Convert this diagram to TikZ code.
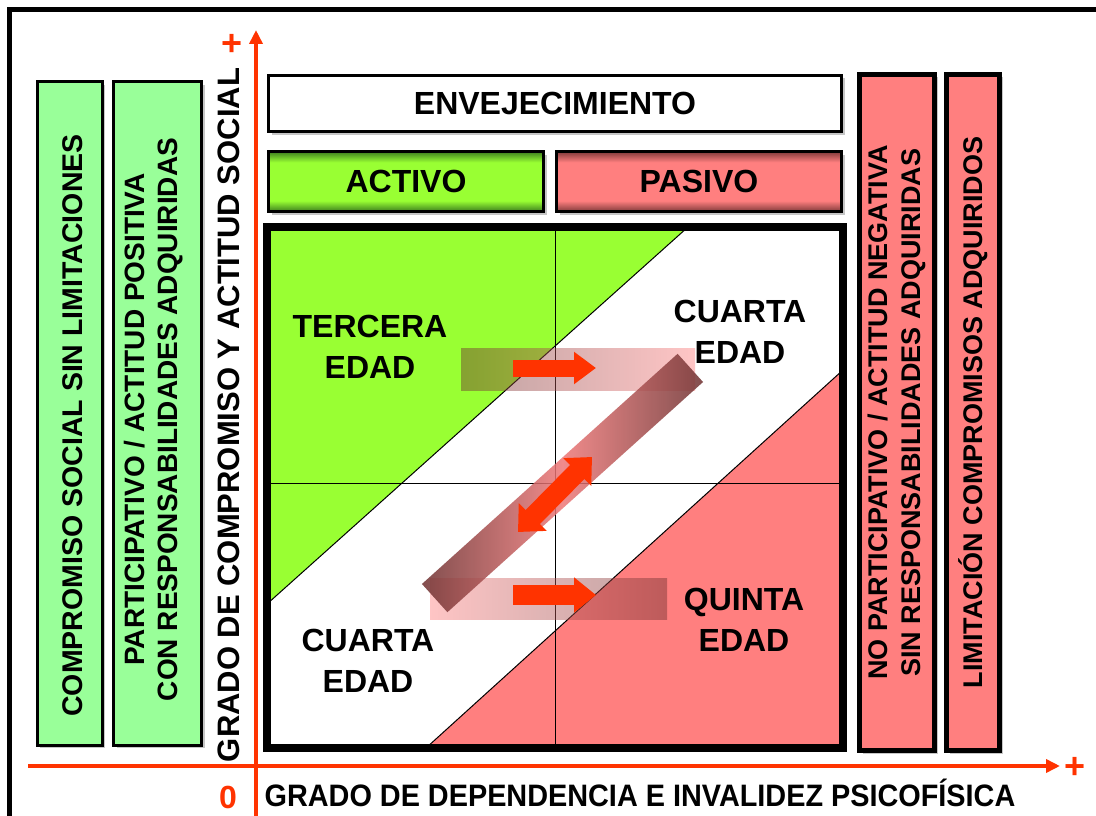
\documentclass[tikz,border=0pt]{standalone}
\usepackage{fontspec}
\setmainfont{Liberation Sans}
\usetikzlibrary{arrows.meta,shadows,positioning}

\definecolor{ejerojo}{HTML}{FF3300}
\definecolor{verdepalido}{HTML}{99FF99}
\definecolor{verdelima}{HTML}{99FF33}
\definecolor{verdeoscuro}{HTML}{3C7D1E}
\definecolor{rosa}{HTML}{FF7F7F}
\definecolor{rosaoscuro}{HTML}{803A3A}
\definecolor{granate}{HTML}{6E3030}
\definecolor{rosabanda}{HTML}{EE7777}

\pgfdeclareverticalshading{activoshade}{100bp}{color(0bp)=(verdeoscuro); color(25bp)=(verdeoscuro); color(34bp)=(verdelima); color(66bp)=(verdelima); color(75bp)=(verdeoscuro); color(100bp)=(verdeoscuro)}
\pgfdeclareverticalshading{pasivoshade}{100bp}{color(0bp)=(rosaoscuro); color(25bp)=(rosaoscuro); color(34bp)=(rosa); color(66bp)=(rosa); color(75bp)=(rosaoscuro); color(100bp)=(rosaoscuro)}

\tikzset{
  sombra/.style={drop shadow={shadow xshift=3pt, shadow yshift=-3pt, opacity=0.45}},
  caja/.style={draw=black, line width=3pt, inner sep=0pt, outer sep=0pt, sombra},
  letrav/.style={rotate=90, align=center, font=\bfseries\fontsize{27}{33}\selectfont},
  edad/.style={align=center, font=\bfseries\fontsize{32}{41}\selectfont},
  titulo/.style={font=\bfseries\fontsize{32}{38}\selectfont},
  ejetxt/.style={text=ejerojo, font=\bfseries\fontsize{36}{40}\selectfont},
  flecha/.style={ejerojo, line width=17pt, -{Triangle[length=22pt, width=31pt]}},
}

\begin{document}
\begin{tikzpicture}[x=1pt, y=-1pt]
    \useasboundingbox (0,0) rectangle (1096,816);
    \draw[line width=4.5pt] (9.5,9.5) rectangle (1130,850);

    % columnas laterales
    \node[caja, fill=verdepalido, minimum width=65pt, minimum height=663pt] (compromiso) at (69.5,413.5) {};
    \node[caja, fill=verdepalido, minimum width=88pt, minimum height=663pt] (participativo) at (157.5,413.5) {};
    \node[caja, fill=rosa, line width=5pt, minimum width=75pt, minimum height=676pt] (noparticipativo) at (897,412.5) {};
    \node[caja, fill=rosa, line width=5pt, minimum width=53pt, minimum height=676pt] (limitacion) at (973,412.5) {};
    \node[letrav, font=\bfseries\fontsize{28.5}{33}\selectfont] (txcompromiso) at ([xshift=3pt, yshift=-12pt]compromiso.center) {COMPROMISO SOCIAL SIN LIMITACIONES};
    \node[letrav, font=\bfseries\fontsize{28}{33}\selectfont] (txparticipativo) at ([xshift=-4pt, yshift=-6pt]participativo.center) {PARTICIPATIVO / ACTITUD POSITIVA\\CON RESPONSABILIDADES ADQUIRIDAS};
    \node[letrav] (txnoparticipativo) at (noparticipativo.center) {NO PARTICIPATIVO / ACTITUD NEGATIVA\\SIN RESPONSABILIDADES ADQUIRIDAS};
    \node[letrav] (txlimitacion) at (limitacion.center) {LIMITACIÓN COMPROMISOS ADQUIRIDOS};

    % cabeceras
    \node[caja, fill=white, minimum width=573pt, minimum height=56pt, titulo] (envejecimiento) at (555,103.5) {ENVEJECIMIENTO};
    \node[caja, shade, shading=activoshade, minimum width=275pt, minimum height=60pt, titulo] (activo) at (406,181.5) {ACTIVO};
    \node[caja, shade, shading=pasivoshade, minimum width=285pt, minimum height=60pt, titulo] (pasivo) at (699,181.5) {PASIVO};

    % cuadro central
    \node[draw, line width=8pt, fill=white, minimum width=576pt, minimum height=521pt, inner sep=0pt, outer sep=0pt, sombra] (cuadro) at (555,487.5) {};
    \fill[verdelima] (cuadro.north west) -- (688,227) -- (267,604) -- cycle;
    \draw[line width=1pt] (688,227) -- (267,604);
    \fill[rosa] (843,370) -- (cuadro.south east) -- (426,748) -- cycle;
    \draw[line width=1pt] (843,370) -- (426,748);
    \draw[line width=1pt] (cuadro.north) -- (cuadro.south);
    \draw[line width=1pt] (267,483) -- (843,483);
    \draw[line width=8pt] (cuadro.north west) rectangle (cuadro.south east);

    \node[edad] (tercera) at (370,347) {TERCERA\\EDAD};
    \node[edad] (cuartasup) at (740,332) {CUARTA\\EDAD};
    \node[edad] (cuartainf) at (368,661) {CUARTA\\EDAD};
    \node[edad] (quinta) at (744,620) {QUINTA\\EDAD};

    % transiciones
    \shade[left color=granate, right color=rosa, opacity=0.45] (461,348) rectangle (695,390);
    \shade[left color=rosa, right color=granate, opacity=0.45] (430,578) rectangle (667,619);
    \coordinate (ts1) at (513,368);
    \coordinate (ts2) at (596,368);
    \coordinate (ti1) at (513,595);
    \coordinate (ti2) at (596,595);
    \draw[flecha] (ts1) -- (ts2);
    \draw[flecha, line width=20pt, -{Triangle[length=22pt, width=34pt]}] (ti1) -- (ti2);
    \node[rotate=42, minimum width=344pt, minimum height=38pt, inner sep=0pt, left color=granate, right color=granate, middle color=rosabanda, fill opacity=0.85] (banda) at (562.5,483) {};
    \coordinate (d1) at (518,532);
    \coordinate (d2) at (592,457);
    \draw[ejerojo, line width=20pt, {Triangle[length=21pt, width=38pt]}-{Triangle[length=21pt, width=38pt]}] (d1) -- (d2);

    % ejes
    \coordinate (ybajo) at (256,830);
    \coordinate (yalto) at (256,30);
    \coordinate (xizq) at (28,766);
    \coordinate (xder) at (1060,766);
    \draw[ejerojo, line width=4pt, -{Triangle[length=14pt, width=13pt]}] (ybajo) -- (yalto);
    \draw[ejerojo, line width=4pt, -{Triangle[length=14pt, width=13pt]}] (xizq) -- (xder);
    \node[ejetxt] (masy) at (232,45) {+};
    \node[ejetxt] (masx) at (1075,768) {+};
    \node[ejetxt, font=\bfseries\fontsize{32}{36}\selectfont] (cero) at (228,797) {0};
    \node[rotate=90, font=\bfseries\fontsize{31}{36}\selectfont] (ejey) at (229,415) {GRADO DE COMPROMISO Y ACTITUD SOCIAL};
    \node[xscale=0.93, font=\bfseries\fontsize{31}{36}\selectfont] (ejex) at (640,793) {GRADO DE DEPENDENCIA E INVALIDEZ PSICOFÍSICA};
\end{tikzpicture}
\end{document}
